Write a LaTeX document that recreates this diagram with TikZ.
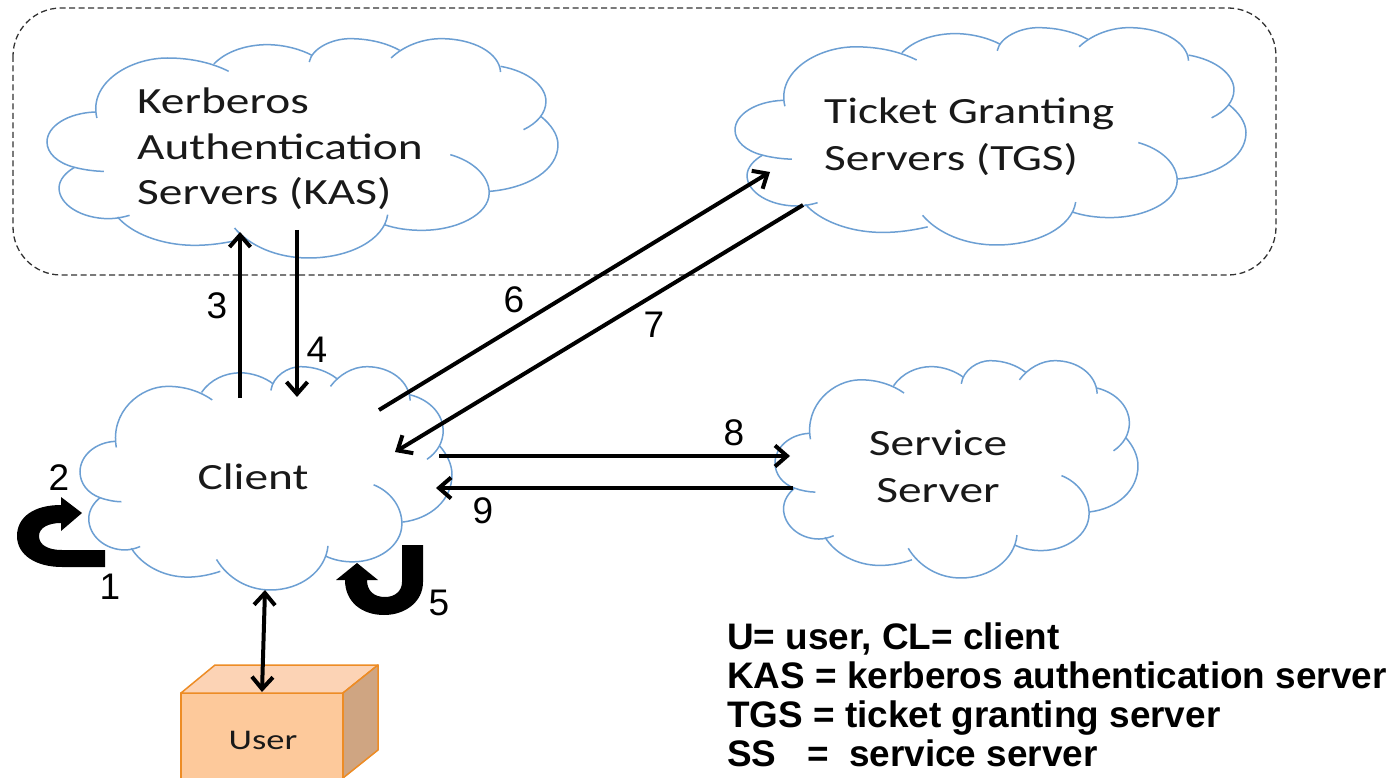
\documentclass[tikz,border=0pt]{standalone}
\usepackage{fontspec}
\setmainfont{Carlito}[FakeStretch=1.28]
\newfontfamily\arialfont{Liberation Sans}
\usetikzlibrary{arrows.meta}
\definecolor{cloudblue}{HTML}{6C9FD3}
\definecolor{boxedge}{HTML}{ED8C25}
\definecolor{boxfront}{HTML}{FDC99B}
\definecolor{boxtop}{HTML}{FCD3B5}
\definecolor{boxside}{HTML}{CFA582}
\tikzset{
  cloudline/.style={draw=cloudblue,line width=1.5pt},
  conn/.style={draw=black,line width=4pt,-{Straight Barb[length=12pt,width=21pt,line width=4pt]}},
  connboth/.style={draw=black,line width=4pt,{Straight Barb[length=12pt,width=21pt,line width=4pt]}-{Straight Barb[length=12pt,width=21pt,line width=4pt]}},
  cloudtext/.style={font=\fontsize{37}{47}\selectfont,inner sep=0pt,text=black!90},
  numtext/.style={font=\arialfont\fontsize{37}{37}\selectfont,inner sep=0pt},
  legendtext/.style={font=\arialfont\bfseries\fontsize{36.9}{39}\selectfont,inner sep=0pt,align=left,anchor=north west},
  boxface/.style={draw=boxedge,line width=1.5pt,line join=round},
}
\newcommand{\mycloud}[4]{%
  \begin{scope}[shift={(#1,#2)},xscale={#3/1485},yscale={#4/660},shift={(-50,-55)}]
    \draw[cloudline] (195,295) .. controls (170,190) and (290,115) .. (400,115) .. controls (470,115) and (530,130) .. (578,155);
    \draw[cloudline] (535,133) .. controls (570,95) and (630,75) .. (690,75) .. controls (740,75) and (790,90) .. (820,107);
    \draw[cloudline] (812,127) .. controls (820,85) and (880,57) .. (930,57) .. controls (990,57) and (1040,72) .. (1075,92);
    \draw[cloudline] (1050,115) .. controls (1085,80) and (1140,57) .. (1195,57) .. controls (1290,57) and (1365,100) .. (1368,157);
    \draw[cloudline] (1368,140) .. controls (1450,155) and (1500,200) .. (1500,245) .. controls (1500,280) and (1475,310) .. (1435,330);
    \draw[cloudline] (1485,290) .. controls (1515,315) and (1535,345) .. (1535,375) .. controls (1535,450) and (1450,505) .. (1337,515);
    \draw[cloudline] (1222,405) .. controls (1290,425) and (1335,470) .. (1335,520) .. controls (1335,585) and (1240,632) .. (1140,632) .. controls (1100,632) and (1065,627) .. (1030,615);
    \draw[cloudline] (1040,585) .. controls (1030,660) and (930,715) .. (810,715) .. controls (720,715) and (640,680) .. (595,625);
    \draw[cloudline] (610,660) .. controls (570,670) and (525,677) .. (480,677) .. controls (380,677) and (295,640) .. (255,592);
    \draw[cloudline] (290,587) .. controls (270,593) and (250,597) .. (230,597) .. controls (150,597) and (85,555) .. (85,505) .. controls (85,480) and (105,458) .. (130,443);
    \draw[cloudline] (215,455) .. controls (190,455) and (155,450) .. (130,443) .. controls (80,430) and (50,400) .. (50,367) .. controls (50,320) and (110,280) .. (190,277);
  \end{scope}}
\begin{document}
\begin{tikzpicture}[x=1pt,y=-1pt]
\useasboundingbox (0,0) rectangle (1392,778);
\fill[white] (0,0) rectangle (1392,778);
% dashed group
\draw[black!80,line width=1.3pt,dash pattern=on 6pt off 3.5pt,rounded corners=48pt] (13,8) rectangle (1276,275);
% clouds
\mycloud{47}{38}{511}{220}
\mycloud{735}{27}{511}{218}
\mycloud{775}{360}{363}{218}
\mycloud{80}{366}{372}{224}
% cloud labels
\node[cloudtext,align=left,anchor=north west] (kas) at (137,88) {Kerberos\\[-1pt]Authentication\\[-2pt]Servers (KAS)};
\node[cloudtext,align=left,anchor=north west] (tgs) at (824,98) {Ticket Granting\\Servers (TGS)};
\node[cloudtext,align=center] (ss) at (938,466) {Service\\Server};
\node[cloudtext] (client) at (253,477) {Client};
% user box
\begin{scope}
\clip (0,0) rectangle (1392,778);
\filldraw[boxface,fill=boxfront] (181,693) rectangle (343,790);
\filldraw[boxface,fill=boxtop] (181,693) -- (215,665) -- (378,665) -- (343,693) -- cycle;
\filldraw[boxface,fill=boxside] (343,693) -- (378,665) -- (378,750) -- (343,778) -- cycle;
\end{scope}
\node[inner sep=0pt,font=\fontsize{28.5}{28.5}\selectfont,text=black!90] (user) at (263,740) {User};
% connector ends
\coordinate (c3) at (240,398); \coordinate (k3) at (240,232);
\coordinate (k4) at (297,230); \coordinate (c4) at (297,397);
\coordinate (c6) at (379,410); \coordinate (t6) at (770,172);
\coordinate (t7) at (803,205); \coordinate (c7) at (395,452);
\coordinate (c8) at (439,456); \coordinate (s8) at (790,456);
\coordinate (s9) at (793,488); \coordinate (c9) at (436,488);
\coordinate (cu) at (265,590); \coordinate (uc) at (262,692);
\draw[conn] (c3) -- (k3);
\draw[conn] (k4) -- (c4);
\draw[conn] (c6) -- (t6);
\draw[conn] (t7) -- (c7);
\draw[conn] (c8) -- (s8);
\draw[conn] (s9) -- (c9);
\draw[connboth] (cu) -- (uc);
% curved block arrows
\fill[black] (105,550) -- (62,550) .. controls (48,550) and (39,545) .. (39,536) .. controls (39,528) and (48,523) .. (61,523) -- (61,531) -- (82,513) -- (61,497) -- (61,505) .. controls (34,505) and (17,517) .. (17,536) .. controls (17,555) and (36,567) .. (62,567) -- (105,567) -- cycle;
\fill[black] (402,545) -- (423,545) -- (423,582) .. controls (423,602) and (405,615) .. (384,615) .. controls (362,615) and (345,602) .. (345,580) -- (336,580) -- (357,563) -- (378,580) -- (367,580) .. controls (367,591) and (374,597) .. (385,597) .. controls (395,597) and (402,591) .. (402,582) -- cycle;
% numbers
\node[numtext] (n1) at (110,587) {1};
\node[numtext] (n2) at (59,478) {2};
\node[numtext] (n3) at (217,306) {3};
\node[numtext] (n4) at (317,350) {4};
\node[numtext] (n5) at (439,603) {5};
\node[numtext] (n6) at (514,300) {6};
\node[numtext] (n7) at (654,325) {7};
\node[numtext] (n8) at (734,433) {8};
\node[numtext] (n9) at (483,511) {9};
% legend
\node[legendtext] (legend) at (727,623) {U= user, CL= client\\KAS = kerberos authentication server\\TGS = ticket granting server\\SS\ \ \ =\ \ service server};
\end{tikzpicture}
\end{document}
